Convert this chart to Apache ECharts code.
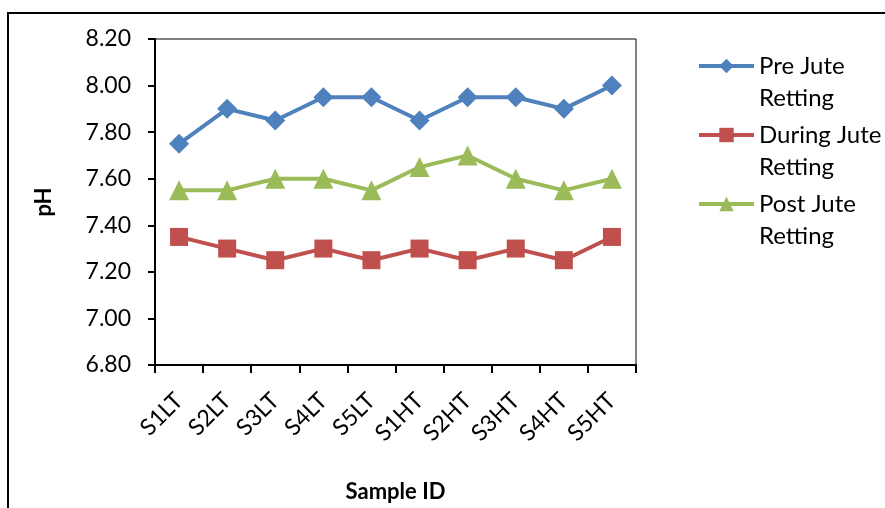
<!DOCTYPE html>
<html><head><meta charset="utf-8">
<script src="https://cdn.jsdelivr.net/npm/echarts@6/dist/echarts.min.js"></script>
<style>html,body{margin:0;padding:0;background:#fff}#c{width:885px;height:508px}</style>
</head><body><div id="c"></div>
<script>
const categories = ['S1LT','S2LT','S3LT','S4LT','S5LT','S1HT','S2HT','S3HT','S4HT','S5HT'];
const preJute = [7.75, 7.90, 7.85, 7.95, 7.95, 7.85, 7.95, 7.95, 7.90, 8.00];
const duringJute = [7.35, 7.30, 7.25, 7.30, 7.25, 7.30, 7.25, 7.30, 7.25, 7.35];
const postJute = [7.55, 7.55, 7.60, 7.60, 7.55, 7.65, 7.70, 7.60, 7.55, 7.60];
const seriesNames = ['Pre Jute Retting','During Jute Retting','Post Jute Retting'];
const legendLabels = {'Pre Jute Retting':'Pre Jute\nRetting','During Jute Retting':'During Jute\nRetting','Post Jute Retting':'Post Jute\nRetting'};
const FONT = 'Lato, "Open Sans", sans-serif';
const chart = echarts.init(document.getElementById('c'));
function mk(name, data, color, symbol, size){
  return {name, type:'line', data, symbol, symbolSize:size, itemStyle:{color},
    lineStyle:{color, width:4}, animation:false};
}
chart.setOption({
  animation:false,
  graphic:[{type:'rect', shape:{x:8, y:13, width:900, height:600}, style:{fill:'none', stroke:'#000', lineWidth:2}, z:-1}],
  grid:{left:155, top:39, width:481, height:326, show:true, borderColor:'#000', borderWidth:1, backgroundColor:'#fff'},
  legend:{orient:'vertical', left:697, top:18, padding:0, itemWidth:55, itemHeight:18, itemGap:-27,
    data:seriesNames, formatter:n=>'\n'+legendLabels[n],
    lineStyle:{width:4},
    textStyle:{fontFamily:FONT, fontSize:24, color:'#000', lineHeight:32}},
  xAxis:{type:'category', data:categories, boundaryGap:true,
    axisLine:{lineStyle:{color:'#000', width:2}},
    axisTick:{show:true, length:8, lineStyle:{color:'#000', width:2}},
    axisLabel:{rotate:45, fontFamily:FONT, fontSize:23, color:'#000', margin:32},
    name:'Sample ID', nameLocation:'middle', nameGap:116,
    nameTextStyle:{fontFamily:FONT, fontSize:22, fontWeight:'bold', color:'#000'}},
  yAxis:{type:'value', min:6.8, max:8.2, interval:0.2,
    axisLine:{show:true, lineStyle:{color:'#000', width:2}},
    axisTick:{show:true, length:7, lineStyle:{color:'#000', width:2}},
    splitLine:{show:false},
    axisLabel:{fontFamily:FONT, fontSize:23, color:'#000', margin:24, formatter:v=>v.toFixed(2)},
    name:'pH', nameLocation:'middle', nameGap:100, nameRotate:90,
    nameTextStyle:{fontFamily:FONT, fontSize:22, fontWeight:'bold', color:'#000'}},
  series:[
    mk(seriesNames[0], preJute, '#4F81BD', 'diamond', 20),
    mk(seriesNames[1], duringJute, '#C0504D', 'rect', 18),
    mk(seriesNames[2], postJute, '#9BBB59', 'triangle', 20)
  ]
});
</script></body></html>
